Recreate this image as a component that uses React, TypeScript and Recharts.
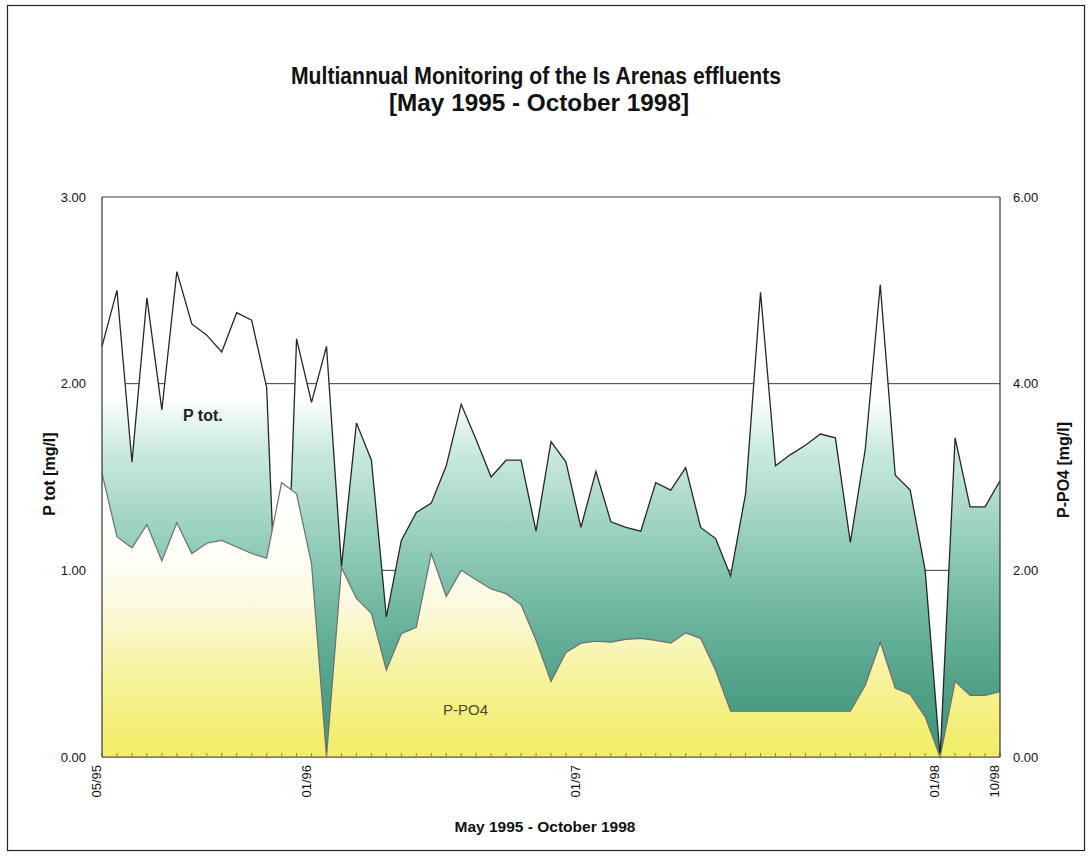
import React from 'react';
import { ComposedChart, Area, XAxis, YAxis, CartesianGrid } from 'recharts';

// Total phosphorus, mg/l (left axis)
const pTot = [
  2.2, 2.5, 1.58, 2.46, 1.86, 2.6, 2.32, 2.26, 2.17, 2.38, 2.34, 1.98, 0.0, 2.24, 1.9, 2.2,
  1.02, 1.79, 1.59, 0.75, 1.16, 1.31, 1.36, 1.56, 1.89, 1.7, 1.5, 1.59, 1.59, 1.21, 1.69,
  1.58, 1.23, 1.53, 1.26, 1.23, 1.21, 1.47, 1.43, 1.55, 1.23, 1.17, 0.97, 1.41, 2.49, 1.56,
  1.62, 1.67, 1.73, 1.71, 1.15, 1.65, 2.53, 1.51, 1.43, 1.0, 0.0, 1.71, 1.34, 1.34, 1.48,
];

// Orthophosphate P-PO4, mg/l (right axis)
const pPO4 = [
  3.04, 2.36, 2.24, 2.49, 2.1, 2.51, 2.18, 2.29, 2.32, 2.25, 2.18, 2.13, 2.94, 2.82, 2.07, 0.0,
  2.03, 1.7, 1.54, 0.93, 1.32, 1.39, 2.18, 1.72, 2.0, 1.9, 1.8, 1.75, 1.63, 1.25, 0.81,
  1.12, 1.22, 1.24, 1.23, 1.26, 1.27, 1.25, 1.22, 1.33, 1.27, 0.93, 0.49, 0.49, 0.49, 0.49,
  0.49, 0.49, 0.49, 0.49, 0.49, 0.77, 1.23, 0.74, 0.67, 0.43, 0.0, 0.81, 0.66, 0.66, 0.7,
];

// Sampling dates shown on the category axis (sample index -> label)
const dateLabels: Record<number, string> = {
  0: '05/95',
  14: '01/96',
  32: '01/97',
  56: '01/98',
  60: '10/98',
};

const leftTicks = [0, 1, 2, 3];
const rightTicks = [0, 2, 4, 6];

const data = pTot.map((v, i) => ({ sample: i, ptot: v, po4: pPO4[i] }));

const FONT = '"Liberation Sans", Arial, Helvetica, sans-serif';

function DateTick(props: any) {
  const { x, y, payload } = props;
  const label = dateLabels[payload.value];
  if (!label) return null;
  const ax = x - 1;
  return (
    <text
      x={ax}
      y={y}
      transform={`rotate(-90 ${ax} ${y})`}
      textAnchor="end"
      fontSize={13}
      fontFamily={FONT}
      fill="#111"
    >
      {label}
    </text>
  );
}

export default function App() {
  return (
    <div
      style={{
        position: 'absolute',
        left: 0,
        top: 0,
        width: 1089,
        height: 857,
        background: '#ffffff',
        fontFamily: FONT,
      }}
    >
      <svg width={0} height={0} style={{ position: 'absolute' }}>
        <defs>
          <linearGradient id="fillTot" x1="0" y1="0" x2="0" y2="1">
            <stop offset="0" stopColor="#ffffff" />
            <stop offset="0.26" stopColor="#ffffff" />
            <stop offset="0.36" stopColor="#cdebe2" />
            <stop offset="0.55" stopColor="#96cfbe" />
            <stop offset="0.69" stopColor="#72b8a3" />
            <stop offset="0.83" stopColor="#55a48c" />
            <stop offset="1" stopColor="#3b9379" />
          </linearGradient>
          <linearGradient id="fillPO4" x1="0" y1="0" x2="0" y2="1">
            <stop offset="0" stopColor="#ffffff" />
            <stop offset="0.3" stopColor="#fefef6" />
            <stop offset="0.47" stopColor="#fbf9dc" />
            <stop offset="0.7" stopColor="#f7f3a0" />
            <stop offset="0.88" stopColor="#f3ef78" />
            <stop offset="1" stopColor="#f2ee68" />
          </linearGradient>
        </defs>
      </svg>

      <ComposedChart
        width={1089}
        height={857}
        data={data}
        margin={{ top: 197, right: 29, bottom: 50, left: 42 }}
      >
        <CartesianGrid
          yAxisId="left"
          horizontal
          vertical={false}
          stroke="#3a3a3a"
          strokeWidth={1}
        />
        <XAxis
          dataKey="sample"
          type="category"
          scale="point"
          interval={0}
          height={50}
          axisLine={{ stroke: '#555', strokeWidth: 1.2 }}
          tickLine={{ stroke: '#8a8a50', strokeWidth: 1 }}
          tickSize={-4}
          tickMargin={12}
          tick={<DateTick />}
        />
        <YAxis
          yAxisId="left"
          domain={[0, 3]}
          ticks={leftTicks}
          width={60}
          axisLine={{ stroke: '#333', strokeWidth: 1.2 }}
          tickLine={false}
          tickSize={6}
          tickMargin={10}
          tickFormatter={(v: number) => v.toFixed(2)}
          tick={{ fontSize: 13, fill: '#111', fontFamily: FONT }}
        />
        <YAxis
          yAxisId="right"
          orientation="right"
          domain={[0, 6]}
          ticks={rightTicks}
          width={60}
          axisLine={{ stroke: '#333', strokeWidth: 1.2 }}
          tickLine={false}
          tickSize={4}
          tickMargin={9}
          tickFormatter={(v: number) => v.toFixed(2)}
          tick={{ fontSize: 13, fill: '#111', fontFamily: FONT }}
        />
        <Area
          yAxisId="left"
          type="linear"
          dataKey="ptot"
          stroke="#262626"
          strokeWidth={1.3}
          fill="url(#fillTot)"
          fillOpacity={1}
          dot={false}
          activeDot={false}
          isAnimationActive={false}
        />
        <Area
          yAxisId="right"
          type="linear"
          dataKey="po4"
          stroke="#6e6e6e"
          strokeWidth={1.2}
          fill="url(#fillPO4)"
          fillOpacity={1}
          dot={false}
          activeDot={false}
          isAnimationActive={false}
        />
      </ComposedChart>

      <svg
        width={1089}
        height={857}
        style={{ position: 'absolute', left: 0, top: 0, pointerEvents: 'none' }}
      >
        <rect x={7.5} y={5.5} width={1077} height={845} fill="none" stroke="#222" strokeWidth={1.2} />
        <text
          x={536}
          y={84}
          textAnchor="middle"
          fontSize={23}
          fontWeight="bold"
          fontFamily={FONT}
          fill="#111"
          textLength={490}
          lengthAdjust="spacingAndGlyphs"
        >
          Multiannual Monitoring of the Is Arenas effluents
        </text>
        <text
          x={539}
          y={111}
          textAnchor="middle"
          fontSize={23}
          fontWeight="bold"
          fontFamily={FONT}
          fill="#111"
          textLength={300}
          lengthAdjust="spacingAndGlyphs"
        >
          [May 1995 - October 1998]
        </text>
        <text
          x={545}
          y={832}
          textAnchor="middle"
          fontSize={15.5}
          fontWeight="bold"
          fontFamily={FONT}
          fill="#111"
        >
          May 1995 - October 1998
        </text>
        <text
          x={55}
          y={474}
          transform="rotate(-90 55 474)"
          textAnchor="middle"
          fontSize={16}
          fontWeight="bold"
          fontFamily={FONT}
          fill="#111"
        >
          P tot [mg/l]
        </text>
        <text
          x={1069}
          y={470}
          transform="rotate(-90 1069 470)"
          textAnchor="middle"
          fontSize={16}
          fontWeight="bold"
          fontFamily={FONT}
          fill="#111"
        >
          P-PO4 [mg/l]
        </text>
        <text x={183} y={421} fontSize={16} fontWeight="bold" fontFamily={FONT} fill="#222">
          P tot.
        </text>
        <text x={443} y={715} fontSize={15} fontFamily={FONT} fill="#4a4a2c">
          P-PO4
        </text>
      </svg>
    </div>
  );
}
